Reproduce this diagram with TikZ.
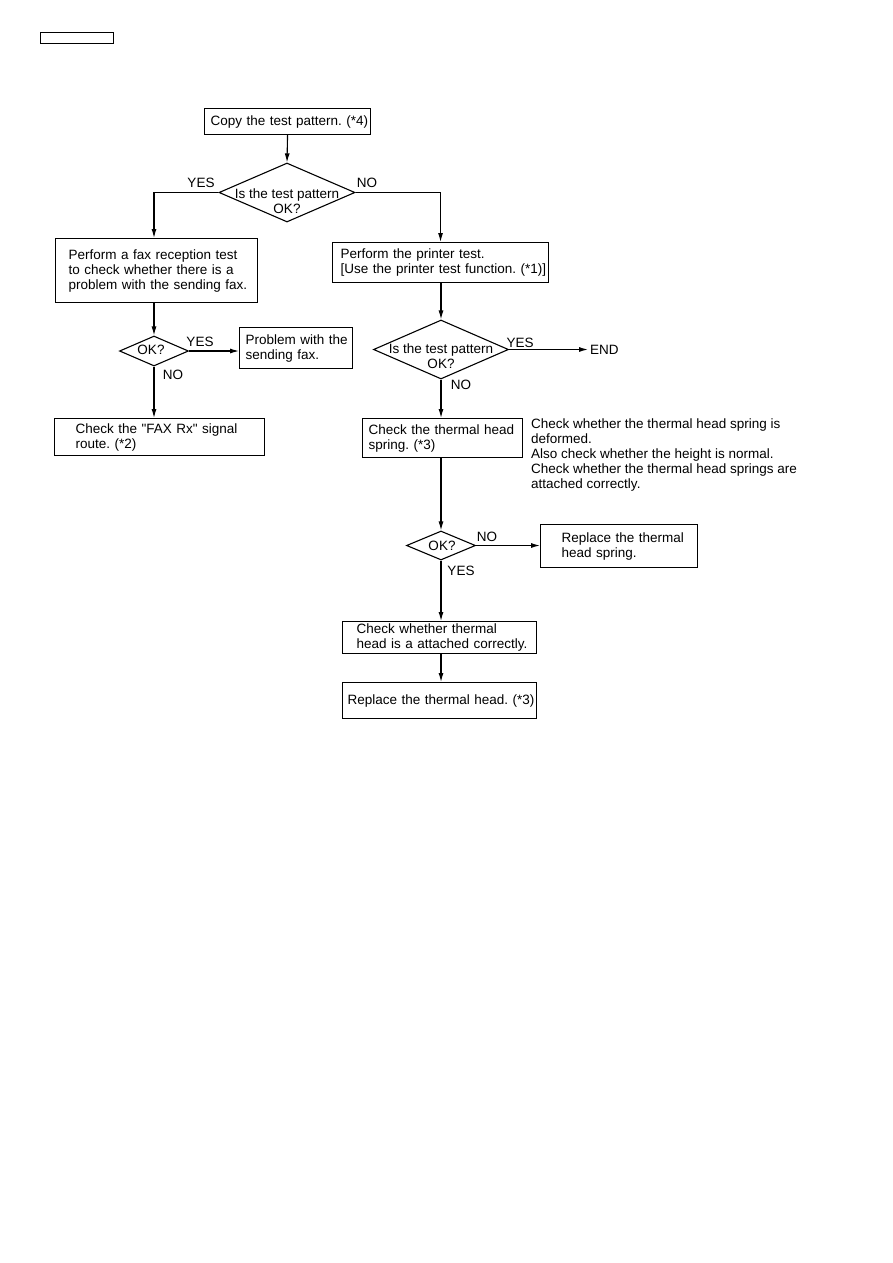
\documentclass[tikz,border=0pt]{standalone}
\usepackage{fontspec}
\setmainfont{Liberation Sans}
\usetikzlibrary{shapes.geometric,arrows.meta}
\frenchspacing
\begin{document}
\begin{tikzpicture}[x=1pt,y=-1pt,
  font=\fontsize{13.5}{15}\selectfont,
  bx/.style={draw, line width=1.1pt, rectangle, anchor=north west, align=left, inner ysep=0pt},
  dia/.style={draw, line width=1.1pt, diamond, inner sep=0pt},
  arr/.style={draw, line width=1.1pt, -{Latex[length=9pt,width=5pt]}},
  lbl/.style={inner sep=0pt}]
\useasboundingbox (0,0) rectangle (893,1263);

% header box
\node[draw, line width=1.1pt, minimum width=73pt, minimum height=11pt, inner sep=0pt, anchor=north west] (hdr) at (40,32) {};

% boxes
\node[bx, text width=154pt, inner xsep=6pt, minimum height=26pt] (copy) at (204,108) {\mbox{Copy the test pattern. (*4)}};
\node[bx, text width=176pt, inner xsep=13pt, minimum height=64pt] (fax) at (55,238) {\mbox{Perform a fax reception test}\\\mbox{to check whether there is a}\\\mbox{problem with the sending fax.}};
\node[bx, text width=101pt, inner xsep=6pt, minimum height=41pt] (prob) at (239,327) {\mbox{Problem with the}\\\mbox{sending fax.}};
\node[bx, text width=168pt, inner xsep=21pt, minimum height=37pt] (faxrx) at (54,418) {\mbox{Check the \textquotedbl FAX Rx\textquotedbl\ signal}\\\mbox{route. (*2)}};
\node[bx, text width=200pt, inner xsep=8pt, minimum height=40pt] (printer) at (332,242) {\mbox{Perform the printer test.}\\\mbox{[Use the printer test function. (*1)]}};
\node[bx, text width=148pt, inner xsep=6pt, minimum height=39pt] (spring) at (362,418) {\mbox{Check the thermal head}\\\mbox{spring. (*3)}};
\node[bx, text width=115pt, inner xsep=21pt, minimum height=43pt] (rspring) at (540,524) {\mbox{Replace the thermal}\\\mbox{head spring.}};
\node[bx, text width=166pt, inner xsep=14pt, minimum height=32pt] (chead) at (342,621) {\mbox{Check whether thermal}\\\mbox{head is a attached correctly.}};
\node[bx, text width=184pt, inner xsep=5pt, minimum height=36pt] (rhead) at (342,682) {\mbox{Replace the thermal head. (*3)}};

% note
\node[anchor=north west, inner sep=0pt, align=left] (note) at (531,418.5) {Check whether the thermal head spring is\\deformed.\\Also check whether the height is normal.\\Check whether the thermal head springs are\\attached correctly.};

% diamonds
\node[dia, minimum width=136pt, minimum height=59pt] (d1) at (287,192.5) {};
\node[lbl, align=center] (d1t) at (287,201) {Is the test pattern\\OK?};
\node[dia, minimum width=69pt, minimum height=30pt] (ok1) at (154,351) {};
\node[lbl] (ok1t) at (151,349.5) {OK?};
\node[dia, minimum width=135pt, minimum height=59pt] (d2) at (441,349.5) {};
\node[lbl, align=center] (d2t) at (441,356.5) {Is the test pattern\\OK?};
\node[dia, minimum width=69pt, minimum height=29pt] (d3) at (441,545.5) {};
\node[lbl] (d3t) at (442,545.5) {OK?};

% END
\node[anchor=west, inner sep=2pt] (endn) at (588,349.5) {END};

% branch labels
\node[lbl] (y1) at (201,183) {YES};
\node[lbl] (n1) at (367,183) {NO};
\node[lbl] (y2) at (200,342) {YES};
\node[lbl] (n2) at (173,375) {NO};
\node[lbl] (y3) at (520,343) {YES};
\node[lbl] (n3) at (461,385) {NO};
\node[lbl] (n4) at (487,537) {NO};
\node[lbl] (y4) at (461,571) {YES};

% connectors
\coordinate (c1) at (154,192.5);
\draw[arr] (copy.south) -- (d1.north);
\draw[arr] (d1.west) -- (c1) -- (c1 |- fax.north);
\draw[arr] (d1.east) -| (printer.north);
\draw[arr] (ok1.north |- fax.south) -- (ok1.north);
\draw[arr] (ok1.east) -- (ok1.east -| prob.west);
\draw[arr] (ok1.south) -- (ok1.south |- faxrx.north);
\draw[arr] (printer.south -| d2.north) -- (d2.north);
\draw[arr] (d2.east) -- (d2.east -| endn.west);
\draw[arr] (d2.south) -- (d2.south |- spring.north);
\draw[arr] (d2.south |- spring.south) -- (d3.north);
\draw[arr] (d3.east) -- (d3.east -| rspring.west);
\draw[arr] (d3.south) -- (d3.south |- chead.north);
\draw[arr] (d3.south |- chead.south) -- (d3.south |- rhead.north);
\end{tikzpicture}
\end{document}
